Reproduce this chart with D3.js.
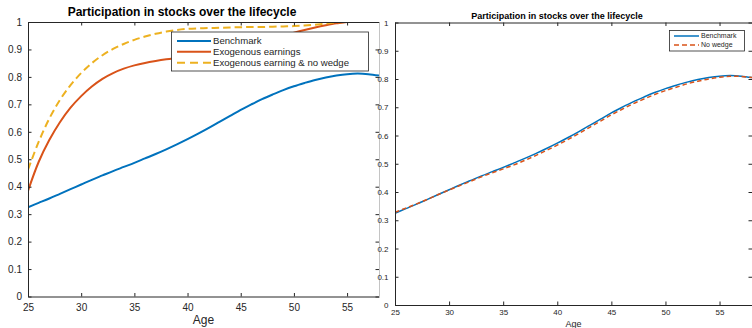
<!DOCTYPE html>
<html>
<head>
<meta charset="utf-8">
<script src="https://cdn.jsdelivr.net/npm/d3@7"></script>
<style>
    body { margin: 0; background: #fff; }
    text { font-family: "Liberation Sans", Arial, sans-serif; fill: #262626; }
</style>
</head>
<body>
<svg id="chart" width="752" height="328"></svg>
<script>
// ages on the x axis
const ages = [25, 26, 27, 28, 29, 30, 31, 32, 33, 34, 35, 36, 37, 38, 39, 40, 41,
    42, 43, 44, 45, 46, 47, 48, 49, 50, 51, 52, 53, 54, 55, 56, 57, 58];

const benchmark = [0.325, 0.341, 0.357, 0.374, 0.391, 0.408, 0.425, 0.441, 0.457, 0.472,
    0.487, 0.503, 0.519, 0.536, 0.554, 0.573, 0.593, 0.614, 0.636, 0.658, 0.68, 0.7,
    0.719, 0.736, 0.752, 0.766, 0.778, 0.789, 0.798, 0.805, 0.81, 0.812, 0.81, 0.805];

const exogenousEarnings = [0.385, 0.49, 0.57, 0.635, 0.688, 0.73, 0.765, 0.793, 0.814,
    0.83, 0.842, 0.851, 0.858, 0.864, 0.869, 0.874, 0.879, 0.885, 0.892, 0.9, 0.908,
    0.918, 0.928, 0.939, 0.95, 0.961, 0.971, 0.98, 0.988, 0.995, 1, 1, 1, 1];

const exogenousNoWedge = [0.462, 0.563, 0.648, 0.716, 0.77, 0.814, 0.85, 0.879, 0.902,
    0.92, 0.935, 0.947, 0.957, 0.965, 0.971, 0.975, 0.977, 0.978, 0.979, 0.98, 0.981,
    0.982, 0.982, 0.983, 0.984, 0.985, 0.987, 0.99, 0.994, 0.999, 1, 1, 1, 1];

const noWedge = [0.328, 0.343, 0.358, 0.374, 0.391, 0.407, 0.423, 0.438, 0.454, 0.468,
    0.482, 0.496, 0.512, 0.529, 0.547, 0.566, 0.586, 0.607, 0.629, 0.651, 0.673, 0.693,
    0.712, 0.729, 0.745, 0.759, 0.771, 0.783, 0.792, 0.8, 0.806, 0.81, 0.809, 0.805];

const xTicks = [25, 30, 35, 40, 45, 50, 55];
const yTicks = [0, 0.1, 0.2, 0.3, 0.4, 0.5, 0.6, 0.7, 0.8, 0.9, 1];

const titleText = "Participation in stocks over the lifecycle";
const xLabel = "Age";

const blue = "#0072bd";
const red = "#d95319";
const yellow = "#edb120";

const svg = d3.select("#chart");

function drawPanel(p) {
    const x = d3.scaleLinear().domain([25, 58]).range([p.left, p.right]);
    const y = d3.scaleLinear().domain([0, 1]).range([p.bottom, p.top]);
    const g = svg.append("g");

    // clip the lines to the box (curves that hit 1 disappear into the top edge)
    g.append("clipPath")
        .attr("id", p.id + "-clip")
        .append("rect")
        .attr("x", p.left)
        .attr("y", p.top + p.lineWidth / 2)
        .attr("width", p.right - p.left)
        .attr("height", p.bottom - p.top - p.lineWidth / 2);

    const line = (vals) =>
        d3.line()
            .x((d, i) => x(ages[i]))
            .y((d) => y(d))
            .curve(d3.curveCatmullRom.alpha(0.5))(vals);

    const lines = g.append("g").attr("clip-path", `url(#${p.id}-clip)`);
    p.series.forEach((s) => {
        lines.append("path")
            .attr("d", line(s.values))
            .attr("fill", "none")
            .attr("stroke", s.color)
            .attr("stroke-width", p.lineWidth)
            .attr("stroke-dasharray", s.dashed ? p.dash : null);
    });

    // axes, ticks pointing inward like matlab
    const bottom = g.append("g")
        .attr("transform", `translate(0,${p.bottom})`)
        .call(d3.axisBottom(x).tickValues(xTicks).tickSize(-p.tick).tickSizeOuter(0)
            .tickPadding(p.xPad).tickFormat(d3.format("d")));
    const left = g.append("g")
        .attr("transform", `translate(${p.left},0)`)
        .call(d3.axisLeft(y).tickValues(yTicks).tickSize(-p.tick).tickSizeOuter(0)
            .tickPadding(p.yPad).tickFormat((d) => d3.format("")(+d.toFixed(1))));
    const top = g.append("g")
        .attr("transform", `translate(0,${p.top})`)
        .call(d3.axisTop(x).tickValues(xTicks).tickSize(-p.tick).tickSizeOuter(0).tickFormat(""));
    const right = g.append("g")
        .attr("transform", `translate(${p.right},0)`)
        .call(d3.axisRight(y).tickValues(yTicks).tickSize(-p.tick).tickSizeOuter(0).tickFormat(""));

    [bottom, left, top, right].forEach((a) => {
        a.select(".domain").attr("stroke", "#262626").attr("stroke-width", 1);
        a.selectAll(".tick line").attr("stroke", "#262626");
        a.selectAll("text")
            .attr("font-size", p.tickFont)
            .attr("font-family", "Liberation Sans, Arial, sans-serif")
            .attr("fill", "#262626");
    });
    right.select(".domain").attr("stroke", p.rightEdge);

    g.append("text")
        .attr("x", p.titleX)
        .attr("y", p.titleY)
        .attr("text-anchor", "middle")
        .attr("font-size", p.titleFont)
        .attr("font-weight", "bold")
        .style("fill", "#000")
        .text(titleText);

    g.append("text")
        .attr("x", (p.left + p.right) / 2)
        .attr("y", p.labelY)
        .attr("text-anchor", "middle")
        .attr("font-size", p.labelFont)
        .text(xLabel);

    // legend
    const lg = p.legend;
    g.append("rect")
        .attr("x", lg.x)
        .attr("y", lg.y)
        .attr("width", lg.w)
        .attr("height", lg.h)
        .attr("fill", "#fff")
        .attr("stroke", "#262626")
        .attr("stroke-width", 0.8);
    p.series.forEach((s, i) => {
        const ly = lg.rows[i];
        g.append("line")
            .attr("x1", lg.lineX0)
            .attr("x2", lg.lineX1)
            .attr("y1", ly)
            .attr("y2", ly)
            .attr("stroke", s.color)
            .attr("stroke-width", p.lineWidth)
            .attr("stroke-dasharray", s.dashed ? lg.dash : null);
        g.append("text")
            .attr("x", lg.textX)
            .attr("y", ly)
            .attr("dy", "0.35em")
            .attr("font-size", lg.font)
            .text(s.name);
    });
}

drawPanel({
    id: "left",
    left: 28, right: 379, top: 22, bottom: 296.5,
    tick: 3.5, xPad: 7, yPad: 6, tickFont: 10,
    lineWidth: 2, dash: "7.5,4",
    rightEdge: "#c4c4c4",
    titleX: 182, titleY: 16, titleFont: 12,
    labelY: 324, labelFont: 12,
    series: [
        { name: "Benchmark", values: benchmark, color: blue },
        { name: "Exogenous earnings", values: exogenousEarnings, color: red },
        { name: "Exogenous earning & no wedge", values: exogenousNoWedge, color: yellow, dashed: true },
    ],
    legend: {
        x: 171.5, y: 32, w: 197, h: 39,
        rows: [41, 51.7, 62.7],
        lineX0: 177, lineX1: 211, textX: 213, font: 9.6, dash: "8,5",
    },
});

drawPanel({
    id: "right",
    left: 395, right: 752, top: 22.5, bottom: 305,
    tick: 3.5, xPad: 4, yPad: 6.5, tickFont: 8,
    lineWidth: 1.5, dash: "4.5,3",
    rightEdge: "#262626",
    titleX: 557, titleY: 19, titleFont: 9,
    labelY: 327, labelFont: 9,
    series: [
        { name: "Benchmark", values: benchmark, color: blue },
        { name: "No wedge", values: noWedge, color: red, dashed: true },
    ],
    legend: {
        x: 669.5, y: 30.5, w: 75, h: 20.5,
        rows: [36, 45],
        lineX0: 674, lineX1: 699, textX: 701, font: 7, dash: "5,3",
    },
});
</script>
</body>
</html>
